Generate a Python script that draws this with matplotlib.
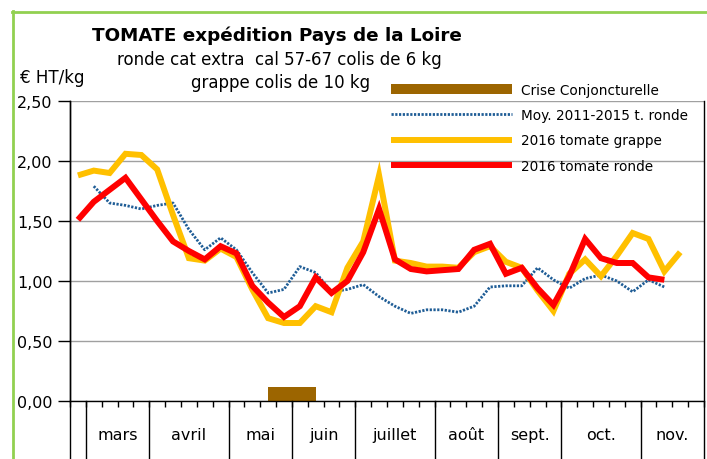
import numpy as np
import matplotlib
matplotlib.use('Agg')
import matplotlib.pyplot as plt
from matplotlib.transforms import blended_transform_factory
from matplotlib.lines import Line2D

plt.rcParams['font.family'] = ['DejaVu Sans']

nan = np.nan

# ---- data (weekly, week 9 .. week 48) ----
months = ['', 'mars', 'avril', 'mai', 'juin', 'juillet', 'août', 'sept.', 'oct.', 'nov.']
weeks_per_month = [1, 4, 5, 4, 4, 5, 4, 4, 5, 4]

moy = [nan, 1.79, 1.65, 1.63, 1.60, 1.63, 1.65, 1.43, 1.26, 1.36,
       1.26, 1.07, 0.90, 0.93, 1.12, 1.07, 0.91, 0.93, 0.97, 0.87,
       0.79, 0.73, 0.76, 0.76, 0.74, 0.79, 0.95, 0.96, 0.96, 1.11,
       1.01, 0.94, 1.02, 1.05, 1.00, 0.91, 1.01, 0.95, nan, nan]

grappe = [1.88, 1.92, 1.90, 2.06, 2.05, 1.93, 1.55, 1.19, 1.17, 1.27,
          1.20, 0.93, 0.69, 0.65, 0.65, 0.79, 0.74, 1.11, 1.33, 1.88,
          1.17, 1.15, 1.12, 1.12, 1.11, 1.24, 1.29, 1.16, 1.11, 0.92,
          0.75, 1.06, 1.18, 1.04, 1.21, 1.40, 1.35, 1.08, 1.24, nan]

ronde = [1.51, 1.66, 1.76, 1.86, 1.68, 1.50, 1.33, 1.25, 1.18, 1.29,
         1.23, 0.96, 0.82, 0.70, 0.79, 1.03, 0.90, 1.00, 1.24, 1.60,
         1.18, 1.10, 1.08, 1.09, 1.10, 1.26, 1.31, 1.06, 1.11, 0.94,
         0.80, 1.04, 1.35, 1.19, 1.15, 1.15, 1.03, 1.01, nan, nan]

crise = [nan] * 12 + [0.115, 0.115, 0.115] + [nan] * 25

yticks = [0.0, 0.5, 1.0, 1.5, 2.0, 2.5]
ytick_labels = ['0,00', '0,50', '1,00', '1,50', '2,00', '2,50']

series_labels = ['Crise Conjoncturelle', 'Moy. 2011-2015 t. ronde',
                 '2016 tomate grappe', '2016 tomate ronde']

# ---- figure ----
W, H = 707, 460
fig = plt.figure(figsize=(W / 100, H / 100), dpi=100)
fig.patch.set_facecolor('white')

ax = fig.add_axes([70 / W, 58 / H, 634 / W, 300 / H])
n = len(grappe)
x = np.arange(n)

ax.set_xlim(-0.5, n - 0.5)
ax.set_ylim(0, 2.5)

for v in yticks:
    ax.axhline(v, color='#A0A0A0', lw=1.0, zorder=0)

bars = ax.bar(x, crise, width=1.0, align='edge', color='#9C6500',
              linewidth=0, zorder=2)
l_moy, = ax.plot(x, moy, color='#1F5D96', lw=2.0, linestyle=(0, (0.8, 0.55)),
                 zorder=3)
l_gr, = ax.plot(x, grappe, color='#FFC000', lw=4.3, solid_joinstyle='miter',
                solid_capstyle='butt', zorder=4)
l_ro, = ax.plot(x, ronde, color='#FF0000', lw=4.3, solid_joinstyle='miter',
                solid_capstyle='butt', zorder=5)

for s in ['top', 'right']:
    ax.spines[s].set_visible(False)
ax.spines['left'].set_color('black')
ax.spines['bottom'].set_color('black')
ax.spines['left'].set_linewidth(1.0)
ax.spines['bottom'].set_linewidth(1.0)

ax.set_yticks(yticks)
ax.set_yticklabels(ytick_labels)
ax.tick_params(axis='y', length=9, width=1, pad=3.5, labelsize=11.5,
               direction='out')
ax.set_xticks(np.arange(-0.5, n, 1.0))
ax.set_xticklabels([])
ax.tick_params(axis='x', length=4.3, width=1, direction='out')

# month separators and labels
trans = blended_transform_factory(ax.transData, ax.transAxes)
bounds = np.concatenate([[0], np.cumsum(weeks_per_month)]) - 0.5
for b in bounds:
    top = 1.0 if (b == bounds[0] or b == bounds[-1]) else 0.0
    ax.add_line(Line2D([b, b], [top, -0.25], transform=trans, color='black',
                       lw=1.0, clip_on=False))
for i, m in enumerate(months):
    if m:
        xc = (bounds[i] + bounds[i + 1]) / 2
        ax.text(xc, -38 / 300, m, transform=trans, ha='center', va='baseline',
                fontsize=11.5)

# legend
leg = ax.legend([bars, l_moy, l_gr, l_ro], series_labels,
                loc='upper left', bbox_to_anchor=(391 / W, 1 - 83.5 / H),
                bbox_transform=fig.transFigure, frameon=False,
                fontsize=9.8, handlelength=8.9, handletextpad=0.64,
                labelspacing=0.84, borderpad=0, borderaxespad=0)

# titles
fig.text(277 / W, 1 - 36 / H, 'TOMATE expédition Pays de la Loire',
         ha='center', va='center', fontsize=13.2, fontweight='bold')
fig.text(279 / W, 1 - 60 / H, 'ronde cat extra  cal 57-67 colis de 6 kg',
         ha='center', va='center', fontsize=12)
fig.text(281 / W, 1 - 83 / H, 'grappe colis de 10 kg',
         ha='center', va='center', fontsize=12)
fig.text(20 / W, 1 - 78 / H, '€ HT/kg', ha='left', va='center', fontsize=12)

# green frame
fig.add_artist(Line2D([13 / W, 13 / W], [0, 1 - 12 / H], color='#92D050',
                      lw=2.0, transform=fig.transFigure))
fig.add_artist(Line2D([12 / W, 1], [1 - 13 / H, 1 - 13 / H], color='#92D050',
                      lw=2.0, transform=fig.transFigure))

fig.savefig('out.png', dpi=100)
